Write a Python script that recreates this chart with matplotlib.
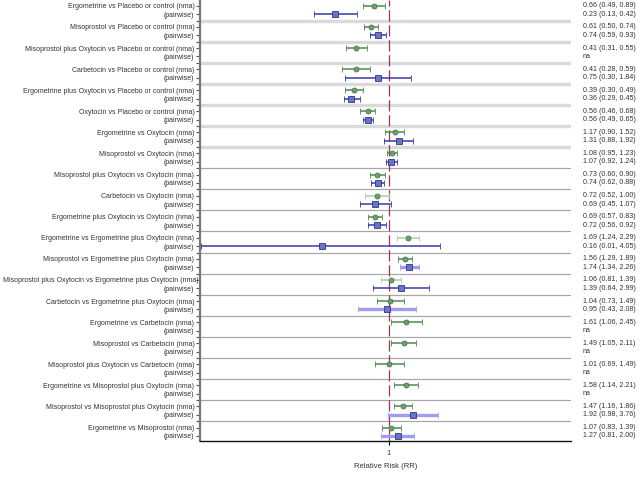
import numpy as np
import matplotlib
matplotlib.use('Agg')
import matplotlib.pyplot as plt
import matplotlib.transforms as mtransforms

plt.rcParams['font.family'] = ['Liberation Sans', 'DejaVu Sans']

comparisons = [
    'Ergometrine vs Placebo or control',
    'Misoprostol vs Placebo or control',
    'Misoprostol plus Oxytocin vs Placebo or control',
    'Carbetocin vs Placebo or control',
    'Ergometrine plus Oxytocin vs Placebo or control',
    'Oxytocin vs Placebo or control',
    'Ergometrine vs Oxytocin',
    'Misoprostol vs Oxytocin',
    'Misoprostol plus Oxytocin vs Oxytocin',
    'Carbetocin vs Oxytocin',
    'Ergometrine plus Oxytocin vs Oxytocin',
    'Ergometrine vs Ergometrine plus Oxytocin',
    'Misoprostol vs Ergometrine plus Oxytocin',
    'Misoprostol plus Oxytocin vs Ergometrine plus Oxytocin',
    'Carbetocin vs Ergometrine plus Oxytocin',
    'Ergometrine vs Carbetocin',
    'Misoprostol vs Carbetocin',
    'Misoprostol plus Oxytocin vs Carbetocin',
    'Ergometrine vs Misoprostol plus Oxytocin',
    'Misoprostol vs Misoprostol plus Oxytocin',
    'Ergometrine vs Misoprostol',
]

nma_rr = [0.66, 0.61, 0.41, 0.41, 0.39, 0.56, 1.17, 1.08, 0.73, 0.72, 0.69,
          1.69, 1.56, 1.06, 1.04, 1.61, 1.49, 1.01, 1.58, 1.47, 1.07]
nma_lo = [0.49, 0.50, 0.31, 0.28, 0.30, 0.46, 0.90, 0.95, 0.60, 0.52, 0.57,
          1.24, 1.29, 0.81, 0.73, 1.06, 1.05, 0.69, 1.14, 1.16, 0.83]
nma_hi = [0.89, 0.74, 0.55, 0.59, 0.49, 0.68, 1.52, 1.23, 0.90, 1.00, 0.83,
          2.29, 1.89, 1.39, 1.49, 2.45, 2.11, 1.49, 2.21, 1.86, 1.39]

# None = not available (na)
pw_rr = [0.23, 0.74, None, 0.75, 0.36, 0.56, 1.31, 1.07, 0.74, 0.69, 0.72,
         0.16, 1.74, 1.39, 0.95, None, None, None, None, 1.92, 1.27]
pw_lo = [0.13, 0.59, None, 0.30, 0.29, 0.49, 0.88, 0.92, 0.62, 0.45, 0.56,
         0.006, 1.34, 0.64, 0.43, None, None, None, None, 0.98, 0.81]
pw_hi = [0.42, 0.93, None, 1.84, 0.45, 0.65, 1.92, 1.24, 0.88, 1.07, 0.92,
         4.05, 2.26, 2.99, 2.08, None, None, None, None, 3.76, 2.00]

# rows drawn with the lighter line style
nma_light = [9, 11, 13]
pw_light = [12, 14, 19, 20]

green, green_light = '#4d8a4d', '#a8cfa8'
blue, blue_light = '#3a3aa6', '#9e9ef0'

fig = plt.figure(figsize=(6.4, 4.8), dpi=100)
ax = fig.add_axes([200 / 640, 1 - 441 / 480, 371 / 640, 441 / 480])
trans = mtransforms.blended_transform_factory(fig.transFigure, ax.transData)

n = len(comparisons)
ticks, labels = [], []
for i in range(n):
    y0 = 2.5 * i
    y1 = y0 + 1
    ticks += [y0, y1]
    labels += [comparisons[i] + ' (nma)', '(pairwise)']

    lc = green_light if i in nma_light else green
    ax.errorbar(nma_rr[i], y0,
                xerr=[[nma_rr[i] - nma_lo[i]], [nma_hi[i] - nma_rr[i]]],
                fmt='o', color=lc, ecolor=lc, elinewidth=1.1, capsize=2.2,
                capthick=1, markersize=3.6, markerfacecolor='#6f9f6f',
                markeredgecolor='#4d7a4d', markeredgewidth=0.6, zorder=3)
    txt = f'{nma_rr[i]:.2f} ({nma_lo[i]:.2f}, {nma_hi[i]:.2f})'
    ax.text(583 / 640, y0, txt, transform=trans,
            fontsize=5.1, color='#333333', va='center', ha='left')

    if pw_rr[i] is not None:
        light = i in pw_light
        lc = blue_light if light else blue
        ax.errorbar(pw_rr[i], y1,
                    xerr=[[pw_rr[i] - pw_lo[i]], [pw_hi[i] - pw_rr[i]]],
                    fmt='s', color=lc, ecolor=lc, elinewidth=2.4 if light else 1.1,
                    capsize=2.2, capthick=1, markersize=4.2,
                    markerfacecolor='#6a74c0', markeredgecolor='#2c3590',
                    markeredgewidth=0.6, zorder=3)
        txt = f'{pw_rr[i]:.2f} ({pw_lo[i]:.2f}, {pw_hi[i]:.2f})'
    else:
        txt = 'na'
    ax.text(583 / 640, y1, txt, transform=trans,
            fontsize=5.1, color='#333333', va='center', ha='left')

    if i < n - 1:
        ys = y0 + 1.75
        ticks.append(ys)
        labels.append('')
        if i < 7:
            ax.axhline(ys, color='#dadada', linewidth=2.4, zorder=1)
        else:
            ax.axhline(ys, color='#a8a8a8', linewidth=0.9, zorder=1)
        ax.text(583 / 640, ys - 0.3, '.', transform=trans,
                fontsize=4, color='#888888', va='center', ha='left')

ax.axvline(1, color='#a3305e', linewidth=0.9, linestyle=(0, (9, 3)), zorder=2)

ax.set_xscale('log')
ax.set_xlim(np.exp(-5.15), np.exp(4.96))
ax.set_ylim(2.5 * (n - 1) + 1.6, -0.7)
ax.set_xticks([1])
ax.set_xticklabels(['1'])
ax.xaxis.set_minor_locator(matplotlib.ticker.NullLocator())
ax.set_yticks(ticks)
ax.set_yticklabels(labels)
ax.tick_params(axis='y', length=3, width=0.8, color='#555555', labelsize=5.0,
               labelcolor='#333333', pad=1)
ax.tick_params(axis='x', length=3, width=0.8, labelsize=5.5, labelcolor='#333333')
ax.set_xlabel('Relative Risk (RR)', fontsize=5.5, color='#333333', labelpad=4)

# the longest label runs into the axis line, as in the original
shift = mtransforms.ScaledTranslation(4 / 100, 0, fig.dpi_scale_trans)
for lbl in ax.get_yticklabels():
    if lbl.get_text().startswith('Misoprostol plus Oxytocin vs Ergometrine'):
        lbl.set_transform(lbl.get_transform() + shift)

for side in ['top', 'right']:
    ax.spines[side].set_visible(False)
ax.spines['left'].set_color('#777777')
ax.spines['left'].set_linewidth(1.6)
ax.spines['bottom'].set_color('#111111')
ax.spines['bottom'].set_linewidth(1.0)

fig.savefig('out.png', dpi=100)
